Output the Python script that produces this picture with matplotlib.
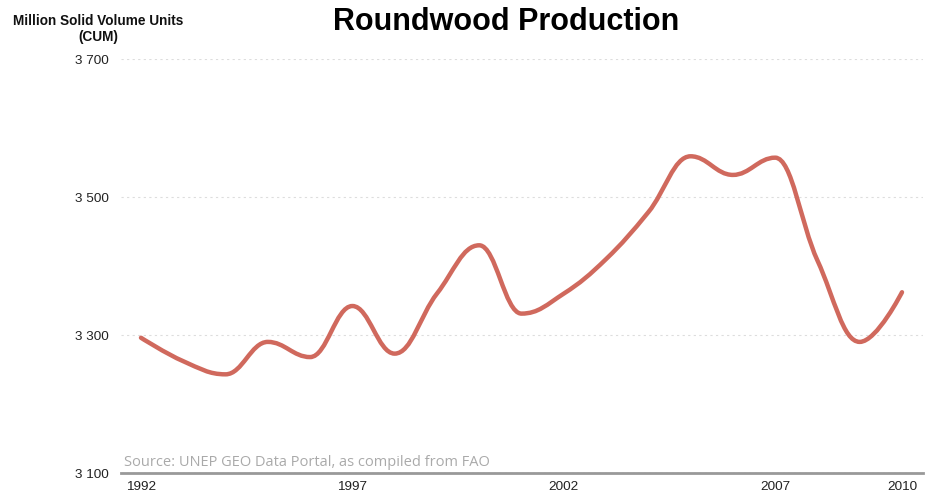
import matplotlib
matplotlib.use("Agg")
import matplotlib.pyplot as plt
from matplotlib.path import Path
from matplotlib.patches import PathPatch
from matplotlib.ticker import FuncFormatter, FixedLocator

years = list(range(1992, 2011))
production = [3296, 3262, 3243, 3290, 3268, 3342, 3273, 3360, 3430, 3331,
              3360, 3410, 3478, 3559, 3532, 3557, 3408, 3290, 3362]
x_ticks = [1992, 1997, 2002, 2007, 2010]
y_ticks = [3100, 3300, 3500, 3700]

LINE_COLOR = "#d0695d"

plt.rcParams['font.family'] = ['Liberation Sans', 'DejaVu Sans']

fig = plt.figure(figsize=(9.28, 4.94), dpi=100)
W, H = 928, 494
left, right, top, bottom = 121, 923, 59, 473
ax = fig.add_axes([left / W, 1 - bottom / H, (right - left) / W, (bottom - top) / H])

# Highcharts-style spline path through the data points
def spline_path(xs, ys, smoothing=1.5):
    denom = smoothing + 1
    n = len(xs)
    lconts, rconts = [], []
    for i in range(n):
        px, py = xs[i], ys[i]
        if 0 < i < n - 1:
            lx, ly = xs[i - 1], ys[i - 1]
            nx, ny = xs[i + 1], ys[i + 1]
            lcx = (smoothing * px + lx) / denom
            lcy = (smoothing * py + ly) / denom
            rcx = (smoothing * px + nx) / denom
            rcy = (smoothing * py + ny) / denom
            if rcx != lcx:
                corr = ((rcy - lcy) * (rcx - px)) / (rcx - lcx) + py - rcy
                lcy += corr
                rcy += corr
            if lcy > ly and lcy > py:
                lcy = max(ly, py); rcy = 2 * py - lcy
            elif lcy < ly and lcy < py:
                lcy = min(ly, py); rcy = 2 * py - lcy
            if rcy > ny and rcy > py:
                rcy = max(ny, py); lcy = 2 * py - rcy
            elif rcy < ny and rcy < py:
                rcy = min(ny, py); lcy = 2 * py - rcy
            lconts.append((lcx, lcy)); rconts.append((rcx, rcy))
        else:
            lconts.append((px, py)); rconts.append((px, py))
    verts = [(xs[0], ys[0])]
    codes = [Path.MOVETO]
    for i in range(1, n):
        verts += [rconts[i - 1], lconts[i], (xs[i], ys[i])]
        codes += [Path.CURVE4] * 3
    return Path(verts, codes)

pxyr = (902 - 141) / 18.0
ax.set_xlim(1992 - (141 - left) / pxyr, 2010 + (right - 902) / pxyr)
ax.set_ylim(3100, 3700)

path = spline_path(years, production)
ax.add_patch(PathPatch(path, facecolor='none', edgecolor=LINE_COLOR, lw=3.2,
                       capstyle='round', joinstyle='round', zorder=3))

for s in ['top', 'right', 'left']:
    ax.spines[s].set_visible(False)
ax.spines['bottom'].set_color('#999999')
ax.spines['bottom'].set_linewidth(2)

ax.yaxis.set_major_locator(FixedLocator(y_ticks))
ax.xaxis.set_major_locator(FixedLocator(x_ticks))
ax.yaxis.set_major_formatter(FuncFormatter(lambda v, p: f"{int(v):,}".replace(",", " ")))
ax.xaxis.set_major_formatter(FuncFormatter(lambda v, p: f"{int(v)}"))
ax.tick_params(axis='y', length=0, pad=9, labelsize=9.7, labelcolor='#222222')
ax.tick_params(axis='x', length=0, pad=6, labelsize=9.7, labelcolor='#222222')
ax.grid(axis='y', color='#dddddd', linestyle=(0, (2, 3)), linewidth=0.8)
ax.set_axisbelow(True)

fig.text(506 / W, 1 - 22 / H, "Roundwood Production", ha='center', va='center',
         fontsize=22, fontweight='bold', color='#000000')
fig.text(98 / W, 1 - 21 / H, "Million Solid Volume Units", ha='center', va='center',
         fontsize=9.8, fontweight='bold', color='#111111')
fig.text(98 / W, 1 - 37 / H, "(CUM)", ha='center', va='center',
         fontsize=9.8, fontweight='bold', color='#111111')
fig.text(124 / W, 1 - 462 / H, "Source: UNEP GEO Data Portal, as compiled from FAO",
         ha='left', va='center', fontsize=10.5, color='#aaaaaa',
         family=['Open Sans', 'DejaVu Sans'])

fig.savefig("out.png", dpi=100)
